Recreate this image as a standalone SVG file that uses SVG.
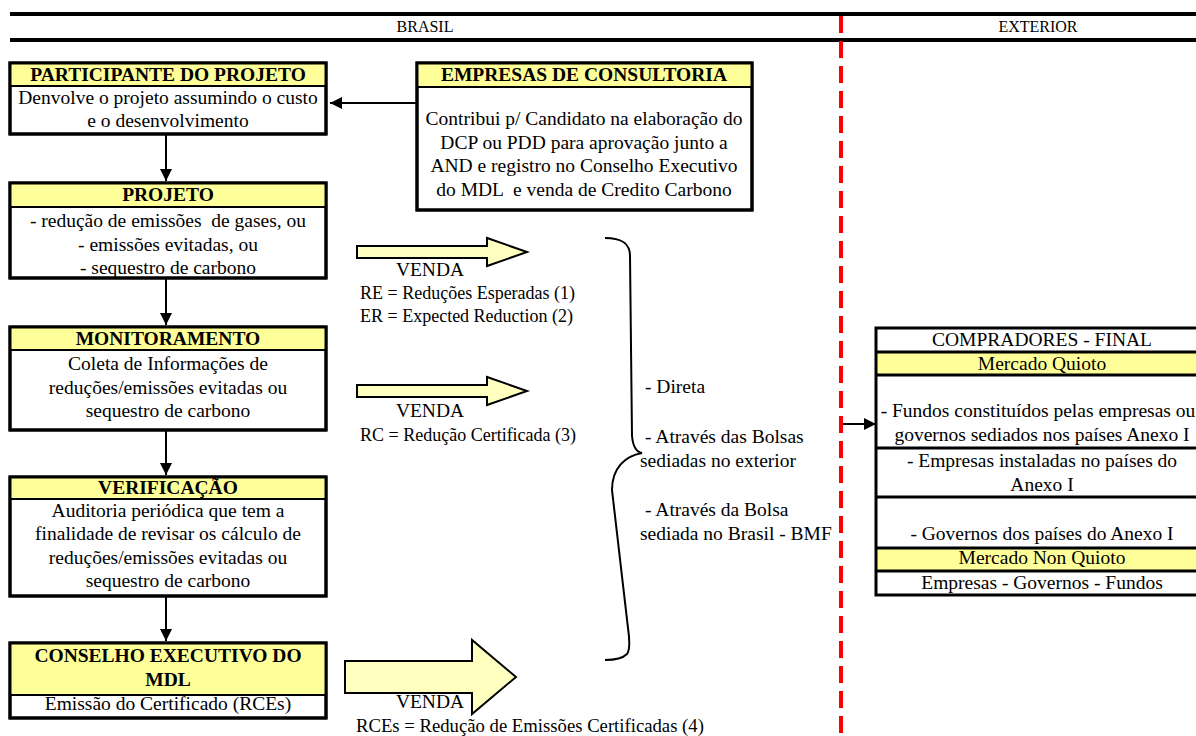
<svg xmlns="http://www.w3.org/2000/svg" width="1196" height="736" viewBox="0 0 1196 736">
<defs>
<style>
.t{font-family:"Liberation Serif","Times New Roman",serif;font-size:19.5px;fill:#000;text-anchor:middle}
.l{text-anchor:start}
.b{font-weight:bold}
.sm{font-size:16px}
.lab{font-size:18px}
.box{fill:#fff;stroke:#000;stroke-width:3}
.hdr{fill:#ffff99;stroke:#000;stroke-width:2}
.ln{stroke:#000;stroke-width:2;fill:none}
.blk{fill:#ffffc0;stroke:#000;stroke-width:2;stroke-linejoin:miter}
.sep{stroke:#000;stroke-width:3}
</style>
<marker id="ahd" markerWidth="12" markerHeight="14" refX="12" refY="6" orient="auto" markerUnits="userSpaceOnUse">
<path d="M0,0 L12,6 L0,12 Z" fill="#000"/>
</marker>
</defs>
<rect width="1196" height="736" fill="#fff"/>

<g id="header">
<line x1="10" y1="14" x2="1196" y2="14" stroke="#000" stroke-width="4"/>
<line x1="10" y1="40" x2="1196" y2="40" stroke="#000" stroke-width="4"/>
<text class="t sm" x="425" y="32">BRASIL</text>
<text class="t sm" x="1038" y="32">EXTERIOR</text>
</g>

<g id="divider">
<line x1="841" y1="16" x2="841" y2="736" stroke="#ff0000" stroke-width="4" stroke-dasharray="17 8"/>
</g>

<g id="participante">
<rect class="box" x="10" y="63" width="316" height="71"/>
<rect class="hdr" x="10" y="63" width="316" height="23"/>
<rect x="10" y="63" width="316" height="71" fill="none" stroke="#000" stroke-width="3"/>
<text class="t b" x="168" y="81">PARTICIPANTE DO PROJETO</text>
<text class="t" x="168" y="104">Denvolve o projeto assumindo o custo</text>
<text class="t" x="168" y="127">e o desenvolvimento</text>
</g>

<g id="consultoria">
<rect class="box" x="417" y="63" width="335" height="147"/>
<rect class="hdr" x="417" y="63" width="335" height="24"/>
<rect x="417" y="63" width="335" height="147" fill="none" stroke="#000" stroke-width="3"/>
<text class="t b" x="584" y="81">EMPRESAS DE CONSULTORIA</text>
<text class="t" x="584" y="125">Contribui p/ Candidato na elaboração do</text>
<text class="t" x="584" y="149">DCP ou PDD para aprovação junto a</text>
<text class="t" x="584" y="172">AND e registro no Conselho Executivo</text>
<text class="t" x="584" y="196" xml:space="preserve">do MDL  e venda de Credito Carbono</text>
</g>

<g id="projeto">
<rect class="box" x="10" y="183" width="316" height="95"/>
<rect class="hdr" x="10" y="183" width="316" height="24"/>
<rect x="10" y="183" width="316" height="95" fill="none" stroke="#000" stroke-width="3"/>
<text class="t b" x="168" y="201">PROJETO</text>
<text class="t" x="168" y="227" xml:space="preserve">- redução de emissões  de gases, ou</text>
<text class="t" x="168" y="251">- emissões evitadas, ou</text>
<text class="t" x="168" y="274">- sequestro de carbono</text>
</g>

<g id="monitoramento">
<rect class="box" x="10" y="327" width="316" height="103"/>
<rect class="hdr" x="10" y="327" width="316" height="23"/>
<rect x="10" y="327" width="316" height="103" fill="none" stroke="#000" stroke-width="3"/>
<text class="t b" x="168" y="345">MONITORAMENTO</text>
<text class="t" x="168" y="370">Coleta de Informações de</text>
<text class="t" x="168" y="394">reduções/emissões evitadas ou</text>
<text class="t" x="168" y="417">sequestro de carbono</text>
</g>

<g id="verificacao">
<rect class="box" x="10" y="477" width="316" height="119"/>
<rect class="hdr" x="10" y="477" width="316" height="22"/>
<rect x="10" y="477" width="316" height="119" fill="none" stroke="#000" stroke-width="3"/>
<text class="t b" x="168" y="494">VERIFICAÇÃO</text>
<text class="t" x="168" y="517">Auditoria periódica que tem a</text>
<text class="t" x="168" y="540">finalidade de revisar os cálculo de</text>
<text class="t" x="168" y="564">reduções/emissões evitadas ou</text>
<text class="t" x="168" y="587">sequestro de carbono</text>
</g>

<g id="conselho">
<rect class="box" x="10" y="643" width="316" height="75"/>
<rect class="hdr" x="10" y="643" width="316" height="52"/>
<rect x="10" y="643" width="316" height="75" fill="none" stroke="#000" stroke-width="3"/>
<text class="t b" x="168" y="662">CONSELHO EXECUTIVO DO</text>
<text class="t b" x="168" y="686">MDL</text>
<text class="t" x="168" y="710">Emissão do Certificado (RCEs)</text>
</g>

<g id="compradores">
<rect x="876" y="352" width="340" height="23" fill="#ffff99"/>
<rect x="876" y="548" width="340" height="23" fill="#ffff99"/>
<rect x="876" y="328" width="340" height="267" fill="none" stroke="#000" stroke-width="3"/>
<line class="sep" x1="876" y1="352" x2="1196" y2="352"/>
<line class="sep" x1="876" y1="375" x2="1196" y2="375"/>
<line class="sep" x1="876" y1="448" x2="1196" y2="448"/>
<line class="sep" x1="876" y1="497" x2="1196" y2="497"/>
<line class="sep" x1="876" y1="548" x2="1196" y2="548"/>
<line class="sep" x1="876" y1="571" x2="1196" y2="571"/>
<text class="t" x="1042" y="346">COMPRADORES - FINAL</text>
<text class="t" x="1042" y="370">Mercado Quioto</text>
<text class="t" x="1038" y="417">- Fundos constituídos pelas empresas ou</text>
<text class="t" x="1042" y="441">governos sediados nos países Anexo I</text>
<text class="t" x="1042" y="467">- Empresas instaladas no países do</text>
<text class="t" x="1042" y="491">Anexo I</text>
<text class="t" x="1042" y="540">- Governos dos países do Anexo I</text>
<text class="t" x="1042" y="564">Mercado Non Quioto</text>
<text class="t" x="1042" y="589">Empresas - Governos - Fundos</text>
</g>

<g id="vendas">
<polygon class="blk" points="357,246 487,246 487,238 527,252 487,266 487,258 357,258"/>
<text class="t" x="430" y="276">VENDA</text>
<text class="t l lab" x="360" y="299">RE = Reduções Esperadas (1)</text>
<text class="t l lab" x="360" y="322">ER = Expected Reduction (2)</text>
<polygon class="blk" points="357,385 487,385 487,377 527,391 487,405 487,397 357,397"/>
<text class="t" x="430" y="417">VENDA</text>
<text class="t l lab" x="360" y="441">RC = Redução Certificada (3)</text>
<polygon class="blk" points="345,661 472,661 472,640 516,677 472,714 472,693 345,693"/>
<text class="t" x="430" y="708">VENDA</text>
<text class="t l" x="356" y="732" style="font-size:18.7px">RCEs = Redução de Emissões Certificadas (4)</text>
</g>

<g id="canais">
<path class="ln" d="M605,238 C620,238 630,242 630,256 L632,436 C633,447 636,452 642,453 C625,456 612,468 612,490 L628,628 C630,642 630,650 627,654 C622,659 614,660 605,660" stroke-width="1.6"/>
<text class="t l" x="645" y="393">- Direta</text>
<text class="t l" x="645" y="443">- Através das Bolsas</text>
<text class="t l" x="640" y="467">sediadas no exterior</text>
<text class="t l" x="645" y="516">- Através da Bolsa</text>
<text class="t l" x="640" y="540">sediada no Brasil - BMF</text>
</g>

<g id="connectors">
<line class="ln" x1="166" y1="134" x2="166" y2="181" marker-end="url(#ahd)"/>
<line class="ln" x1="166" y1="278" x2="166" y2="325" marker-end="url(#ahd)"/>
<line class="ln" x1="166" y1="430" x2="166" y2="475" marker-end="url(#ahd)"/>
<line class="ln" x1="166" y1="596" x2="166" y2="641" marker-end="url(#ahd)"/>
<line class="ln" x1="416" y1="103" x2="330" y2="103" marker-end="url(#ahd)"/>
<line class="ln" x1="843" y1="424" x2="876" y2="424" marker-end="url(#ahd)"/>
</g>
</svg>
